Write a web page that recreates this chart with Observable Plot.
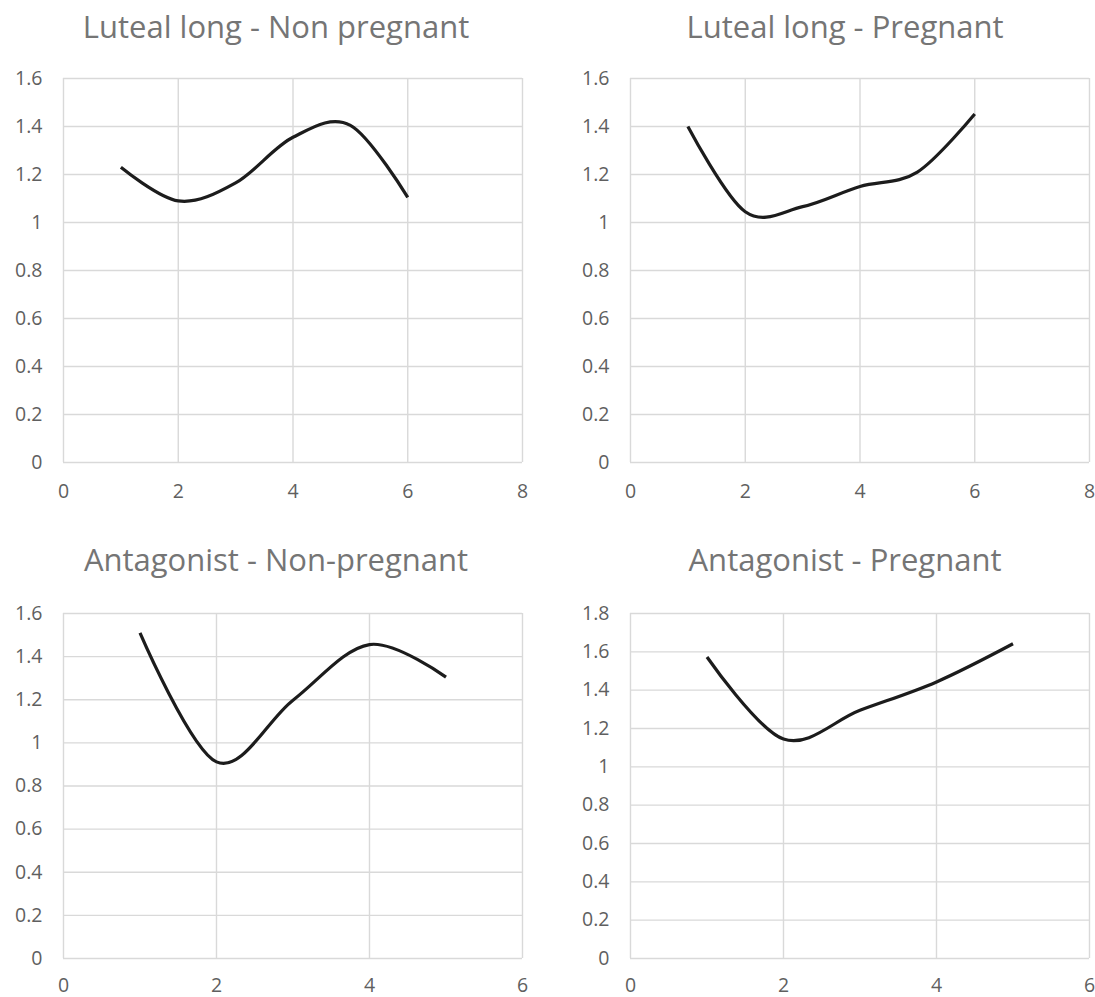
<!DOCTYPE html>
<html>
<head>
<meta charset="utf-8">
<script src="https://cdn.jsdelivr.net/npm/d3@7"></script>
<script src="https://cdn.jsdelivr.net/npm/@observablehq/plot@0.6"></script>
<style>
  html, body { margin: 0; padding: 0; background: #fff; }
  #wrap { position: relative; width: 1095px; height: 997px; overflow: hidden; }
  #wrap > svg { position: absolute; }
</style>
</head>
<body>
<div id="wrap"></div>
<script>
// ---- Data ----
const titles = [
  "Luteal long - Non pregnant",
  "Luteal long - Pregnant",
  "Antagonist - Non-pregnant",
  "Antagonist - Pregnant"
];
const lutealNonPregX = [1, 2, 3, 4, 5, 6];
const lutealNonPregY = [1.23, 1.09, 1.165, 1.355, 1.405, 1.105];
const lutealPregX = [1, 2, 3, 4, 5, 6];
const lutealPregY = [1.40, 1.045, 1.066, 1.15, 1.21, 1.452];
const antagNonPregX = [1, 2, 3, 4, 5];
const antagNonPregY = [1.51, 0.912, 1.198, 1.456, 1.305];
const antagPregX = [1, 2, 3, 4, 5];
const antagPregY = [1.573, 1.145, 1.295, 1.443, 1.642];

const xTicksTop = [0, 2, 4, 6, 8];
const xTicksBottom = [0, 2, 4, 6];
const yTicks16 = [0, 0.2, 0.4, 0.6, 0.8, 1, 1.2, 1.4, 1.6];
const yTicks18 = [0, 0.2, 0.4, 0.6, 0.8, 1, 1.2, 1.4, 1.6, 1.8];

// ---- Styling ----
const FONT = "'Open Sans', 'Noto Sans', sans-serif";
const GRID = "#d9d9d9";
const TICK_COLOR = "#5f5f5f";
const TITLE_COLOR = "#757575";
const LINE_COLOR = "#1c1c1c";

const fmt = d => String(+d.toFixed(1));

function panel({xs, ys, title, xDomain, xTicks, yDomain, yTicks, left, top, width, height, margins, titleDx, titleDy, xPad}) {
  const data = xs.map((x, i) => ({x, y: ys[i]}));
  const chart = Plot.plot({
    width, height,
    marginLeft: margins[0], marginRight: margins[1], marginTop: margins[2], marginBottom: margins[3],
    style: {fontFamily: FONT, background: "transparent", overflow: "visible"},
    x: {domain: xDomain},
    y: {domain: yDomain},
    marks: [
      Plot.gridX(xTicks, {stroke: GRID, strokeOpacity: 1, strokeWidth: 1.4}),
      Plot.gridY(yTicks, {stroke: GRID, strokeOpacity: 1, strokeWidth: 1.4}),
      Plot.axisX(xTicks, {tickSize: 0, tickPadding: xPad, fontSize: 19.5, fill: TICK_COLOR, tickFormat: fmt, label: null}),
      Plot.axisY(yTicks, {tickSize: 0, tickPadding: 21, fontSize: 19.5, fill: TICK_COLOR, tickFormat: fmt, label: null}),
      Plot.line(data, {x: "x", y: "y", curve: "cardinal", stroke: LINE_COLOR, strokeWidth: 3.2, strokeLinecap: "butt"}),
      Plot.text([title], {frameAnchor: "top", dx: titleDx, dy: titleDy, lineAnchor: "bottom", text: d => d, fontSize: 31, fill: TITLE_COLOR, textAnchor: "middle"})
    ]
  });
  chart.style.left = left + "px";
  chart.style.top = top + "px";
  document.getElementById("wrap").appendChild(chart);
}

panel({xs: lutealNonPregX, ys: lutealNonPregY, title: titles[0], xDomain: [0, 8], xTicks: xTicksTop, yDomain: [0, 1.6], yTicks: yTicks16,
  left: 0, top: 0, width: 547, height: 520, margins: [63, 25, 78, 58], titleDx: -17, titleDy: -41, xPad: 22});
panel({xs: lutealPregX, ys: lutealPregY, title: titles[1], xDomain: [0, 8], xTicks: xTicksTop, yDomain: [0, 1.6], yTicks: yTicks16,
  left: 547, top: 0, width: 548, height: 520, margins: [83, 6, 78, 58], titleDx: -15, titleDy: -41, xPad: 22});
panel({xs: antagNonPregX, ys: antagNonPregY, title: titles[2], xDomain: [0, 6], xTicks: xTicksBottom, yDomain: [0, 1.6], yTicks: yTicks16,
  left: 0, top: 535, width: 547, height: 462, margins: [63, 25, 78, 39], titleDx: -17, titleDy: -43, xPad: 20});
panel({xs: antagPregX, ys: antagPregY, title: titles[3], xDomain: [0, 6], xTicks: xTicksBottom, yDomain: [0, 1.8], yTicks: yTicks18,
  left: 547, top: 535, width: 548, height: 462, margins: [83, 6, 78, 39], titleDx: -15, titleDy: -43, xPad: 20});
</script>
</body>
</html>
